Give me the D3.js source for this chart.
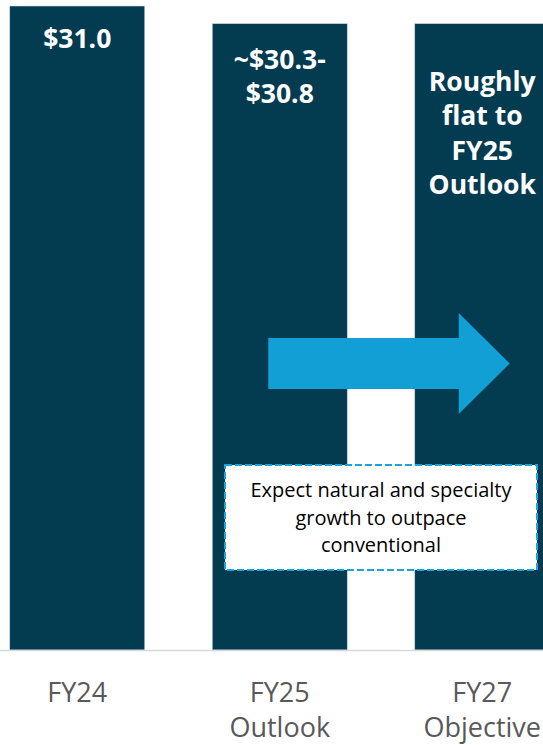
<!DOCTYPE html>
<html>
<head>
<meta charset="utf-8">
<script src="https://cdn.jsdelivr.net/npm/d3@7"></script>
<style>
  html, body { margin: 0; padding: 0; background: #fff; }
  svg { display: block; }
</style>
</head>
<body>
<div class="chart"></div>
<script>
// DATA
var categories = ["FY24", "FY25 Outlook", "FY27 Objective"];
var tickLines = [["FY24"], ["FY25", "Outlook"], ["FY27", "Objective"]];
var barValues = [31.0, 30.15, 30.15];
var barLabels = [["$31.0"], ["~$30.3-", "$30.8"], ["Roughly", "flat to", "FY25", "Outlook"]];
var noteLines = ["Expect natural and specialty", "growth to outpace", "conventional"];

var width = 543, height = 745;
var baseY = 650;

var svg = d3.select(".chart").append("svg")
    .attr("width", width)
    .attr("height", height);

// SCALES
var x = d3.scaleBand()
    .domain(categories)
    .range([-24, 583.5])
    .paddingInner(1 / 3)
    .paddingOuter(1 / 6);

var y = d3.scaleLinear()
    .domain([0, 31])
    .range([baseY, 6]);

// bars
svg.selectAll(".bar")
    .data(categories)
  .enter().append("rect")
    .attr("class", "bar")
    .attr("x", function(d) { return x(d); })
    .attr("y", function(d, i) { return y(barValues[i]); })
    .attr("width", x.bandwidth())
    .attr("height", function(d, i) { return baseY - y(barValues[i]); })
    .attr("fill", "#033c51")
    .attr("stroke", "#c9d6dc")
    .attr("stroke-width", 0.6);

// baseline
svg.append("line")
    .attr("x1", 0).attr("x2", width)
    .attr("y1", baseY + 0.5).attr("y2", baseY + 0.5)
    .attr("stroke", "#d9d9d9")
    .attr("stroke-width", 1.5);

// value labels inside bars
var labelTop = [48, 69, 91];
categories.forEach(function(c, i) {
    var t = svg.append("text")
        .attr("x", x(c) + x.bandwidth() / 2)
        .attr("y", labelTop[i])
        .attr("text-anchor", "middle")
        .attr("fill", "#ffffff")
        .style("font-family", "'Open Sans', sans-serif")
        .style("font-weight", "bold")
        .style("font-size", "26.5px");
    barLabels[i].forEach(function(line, j) {
        t.append("tspan")
            .attr("x", x(c) + x.bandwidth() / 2)
            .attr("dy", j === 0 ? 0 : 34.3)
            .text(line);
    });
});

// category labels
categories.forEach(function(c, i) {
    var t = svg.append("text")
        .attr("x", x(c) + x.bandwidth() / 2)
        .attr("y", 702)
        .attr("text-anchor", "middle")
        .attr("fill", "#595959")
        .style("font-family", "'Open Sans', sans-serif")
        .style("font-size", "27px");
    tickLines[i].forEach(function(line, j) {
        t.append("tspan")
            .attr("x", x(c) + x.bandwidth() / 2)
            .attr("dy", j === 0 ? 0 : 35)
            .text(line);
    });
});

// arrow between FY25 and FY27
var ax0 = x(categories[1]) + 56;
var axTip = x(categories[2]) + 95;
var axHead = axTip - 51;
var ayMid = 363.5;
var shaftH = 25.5, headH = 50.5;
var arrowPts = [
    [ax0, ayMid - shaftH], [axHead, ayMid - shaftH], [axHead, ayMid - headH],
    [axTip, ayMid], [axHead, ayMid + headH], [axHead, ayMid + shaftH],
    [ax0, ayMid + shaftH]
];
svg.append("path")
    .attr("d", d3.line()(arrowPts) + "Z")
    .attr("fill", "#119fd6");

// note box
var boxX = 225, boxY = 465, boxW = 312, boxH = 105;
svg.append("rect")
    .attr("x", boxX).attr("y", boxY)
    .attr("width", boxW).attr("height", boxH)
    .attr("fill", "#ffffff")
    .attr("stroke", "#1ca3dc")
    .attr("stroke-width", 2)
    .attr("stroke-dasharray", "7,3");

var note = svg.append("text")
    .attr("x", boxX + boxW / 2)
    .attr("y", 497)
    .attr("text-anchor", "middle")
    .attr("fill", "#000000")
    .style("font-family", "'Open Sans', sans-serif")
    .style("font-size", "20px");
noteLines.forEach(function(line, j) {
    note.append("tspan")
        .attr("x", boxX + boxW / 2)
        .attr("dy", j === 0 ? 0 : 27.5)
        .text(line);
});
</script>
</body>
</html>
